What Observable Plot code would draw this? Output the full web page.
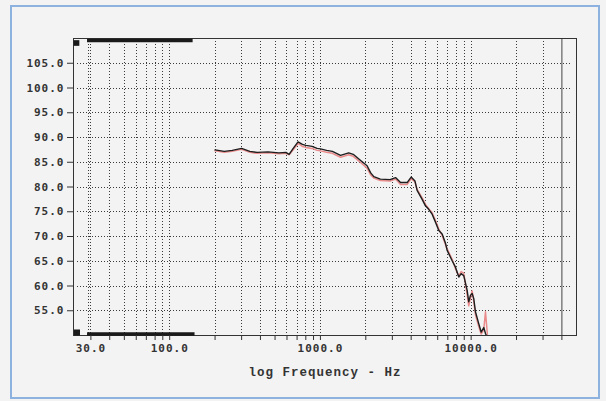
<!DOCTYPE html>
<html><head><meta charset="utf-8">
<script src="https://cdn.jsdelivr.net/npm/d3@7"></script>
<script src="https://cdn.jsdelivr.net/npm/@observablehq/plot@0.6"></script>
<style>
html,body{margin:0;padding:0;background:#f3f3f3;}
#wrap{position:relative;width:606px;height:401px;overflow:hidden;}
#border{position:absolute;left:10px;top:5px;width:590px;height:394px;border:2px solid #8db2e0;box-sizing:border-box;pointer-events:none;}
#chart svg{position:absolute;left:0;top:0;}
#chart svg text{letter-spacing:1px;}
</style></head><body>
<div id="wrap"><div id="chart"></div><div id="border"></div></div>
<script>
const freqHz = [200,230,260,300,340,380,450,530,590,620,660,710,760,800,880,950,1000,1100,1200,1360,1540,1650,1840,2040,2150,2260,2500,2900,3150,3400,3760,4000,4240,4380,4730,4975,5230,5510,5800,6100,6420,6750,6930,7480,7870,8280,8580,8930,9410,9640,9890,10150,10400,10680,11230,11650,12130,12450,12830];
const splBlack = [87.5,87.2,87.4,87.8,87.2,87.0,87.1,86.9,87.0,86.6,87.8,89.1,88.6,88.4,88.2,87.8,87.7,87.4,87.2,86.4,86.9,86.6,85.4,84.3,82.9,82.1,81.6,81.5,81.9,80.9,80.9,82.0,81.2,79.3,77.5,76.2,75.5,74.5,72.9,71.2,70.5,68.7,67.2,65.1,63.8,61.8,62.5,62.1,59.1,56.8,58.1,58.5,57.5,54.8,52.4,50.7,51.6,50.4,49.5];
const splPink = [87.3,87.0,87.2,87.6,87.0,86.8,86.9,86.7,86.8,86.5,87.5,88.8,88.2,88.0,87.8,87.4,87.3,87.0,86.8,86.0,86.5,86.2,85.0,83.8,82.5,81.8,81.3,81.2,81.6,80.5,80.5,81.7,81.0,79.5,77.8,76.5,75.6,74.8,73.2,71.5,70.2,68.4,67.5,65.4,63.5,62.0,62.9,62.6,58.2,56.0,57.5,59.0,57.0,54.2,51.8,50.3,51.2,54.8,50.0];
const yTicks = [55,60,65,70,75,80,85,90,95,100,105];
const xLabelTicks = [30,100,1000,10000];
const xGridTicks = [30,40,50,60,70,80,90,100,200,300,400,500,600,700,800,900,1000,2000,3000,4000,5000,6000,7000,8000,9000,10000,20000,30000];
const xSolidLine = [40000];
const markerBand = [28.5, 143];
const xTitle = "log Frequency - Hz";

const black = freqHz.map((f, i) => ({f, v: splBlack[i]}));
const pink = freqHz.map((f, i) => ({f, v: splPink[i]}));
const tickFont = {fontFamily: "DejaVu Sans Mono", fontWeight: "bold", fontSize: 11};
const dotted = {stroke: "#3a3a3a", strokeDasharray: "1,2", strokeWidth: 1, shapeRendering: "crispEdges"};

const chart = Plot.plot({
  width: 606, height: 401,
  marginLeft: 73, marginRight: 30, marginTop: 38, marginBottom: 66,
  x: {type: "log", domain: [23, 50000]},
  y: {domain: [50, 110]},
  style: {background: "transparent", color: "#333", overflow: "visible"},
  marks: [
    Plot.ruleY(yTicks, {...dotted, insetLeft: 4, insetRight: 4}),
    Plot.ruleX(xGridTicks, dotted),
    Plot.ruleX([xGridTicks[0]], {...dotted, dx: -2.5}),
    Plot.ruleX(xSolidLine, {stroke: "#444", strokeWidth: 1}),
    Plot.line(pink, {x: "f", y: "v", stroke: "#ea8a8a", strokeWidth: 1.5, clip: true}),
    Plot.line(black, {x: "f", y: "v", stroke: "#1e1e1e", strokeWidth: 1.4, clip: true}),
    Plot.frame({stroke: "#333"}),
    Plot.ruleY([{y: 110, a: markerBand[0], b: markerBand[1]}], {y: "y", x1: "a", x2: "b", stroke: "#1a1a1a", strokeWidth: 3.5, dy: 2}),
    Plot.ruleY([{y: 50, a: markerBand[0], b: markerBand[1] * 1.03}], {y: "y", x1: "a", x2: "b", stroke: "#1a1a1a", strokeWidth: 3.5, dy: -1.5}),
    Plot.dot([{x: 23, y: 110}], {x: "x", y: "y", symbol: "square", r: 3.2, fill: "#1a1a1a", dx: 3, dy: 4.5}),
    Plot.dot([{x: 23, y: 50}], {x: "x", y: "y", symbol: "square", r: 3.4, fill: "#1a1a1a", dx: 3.5, dy: -3}),
    Plot.axisY(yTicks, {...tickFont, tickSize: 6, tickPadding: 3, tickFormat: d => d.toFixed(1), label: null}),
    Plot.axisX(xGridTicks.concat(xSolidLine), {tickSize: 5, tickFormat: () => "", label: null}),
    Plot.text(xLabelTicks, {x: d => d, text: d => d.toFixed(1), frameAnchor: "bottom", lineAnchor: "top", dy: 9, ...tickFont, fill: "#333"}),
    Plot.text([xTitle], {frameAnchor: "bottom", lineAnchor: "bottom", dy: 40, fontFamily: "Liberation Mono", fontWeight: "bold", fontSize: 12.5, fill: "#333"})
  ]
});
document.getElementById("chart").appendChild(chart);
</script>
</body></html>
